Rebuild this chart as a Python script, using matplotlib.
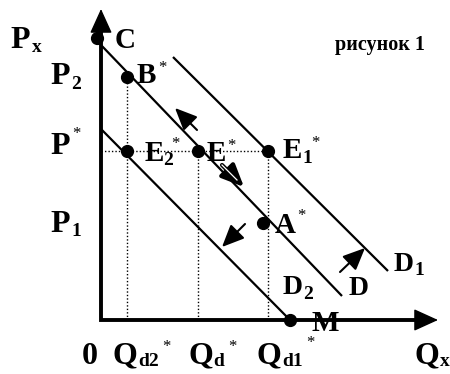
import matplotlib
matplotlib.use("Agg")
import matplotlib.pyplot as plt

plt.rcParams['font.family'] = ['Liberation Serif', 'DejaVu Serif']

# demand lines (quantity, price) endpoints
D_q, D_p = [0, 241], [275, 24]
D1_q, D1_p = [72, 287], [263, 49]
D2_q, D2_p = [0, 189], [191, 0]

# marked points
pt_names = ["C", "B*", "E2*", "E*", "E1*", "A*", "M"]
pt_q = [-4, 26, 26, 97, 167, 162, 189]
pt_p = [282, 243, 169, 169, 169, 97, 0]

P_star = 169
Qd2, Qd, Qd1 = 26, 97, 167
P2 = 243

fig = plt.figure(figsize=(4.5, 3.74), dpi=100)
ax = fig.add_axes([0, 0, 1, 1])
ax.set_xlim(-101, 349)
ax.set_ylim(-54, 320)
ax.axis('off')

# axes with arrows
ax.plot([0, 0, 322], [296, 0, 0], color='black', lw=2.8, solid_joinstyle='miter',
        solid_capstyle='butt')
head = dict(arrowstyle='-|>,head_length=1.1,head_width=0.5', lw=1, color='black',
            mutation_scale=14, shrinkA=0, shrinkB=0)
ax.annotate('', xy=(0, 311), xytext=(0, 290), arrowprops=head)
ax.annotate('', xy=(337, 0), xytext=(316, 0), arrowprops=head)

# dotted guides
dot = dict(color='black', lw=1.0, linestyle=(0, (1, 1.5)))
ax.plot([0, Qd1], [P_star, P_star], **dot)
ax.plot([Qd2, Qd2], [0, P2], **dot)
ax.plot([Qd, Qd], [0, P_star], **dot)
ax.plot([Qd1, Qd1], [0, P_star], **dot)

# demand lines
for q, p in [(D_q, D_p), (D1_q, D1_p), (D2_q, D2_p)]:
    ax.plot(q, p, color='black', lw=1.6, solid_capstyle='butt')

# points
ax.plot(pt_q, pt_p, 'o', color='black', markersize=8.5, zorder=5)

# movement arrows
arr = dict(arrowstyle='-|>,head_length=0.9,head_width=0.4', lw=1.5, color='black',
           mutation_scale=15, shrinkA=0, shrinkB=0)
ax.annotate('', xy=(74, 212), xytext=(96, 190), arrowprops=arr)
ax.annotate('', xy=(143, 133), xytext=(121, 155),
            arrowprops=dict(arrowstyle='-|>,head_length=0.9,head_width=0.4', lw=3.0,
                            color='black', mutation_scale=15, shrinkA=0, shrinkB=0))
ax.plot([121, 136], [155, 140], color='white', lw=0.9, zorder=4)
ax.annotate('', xy=(121, 73), xytext=(144, 96), arrowprops=arr)
ax.annotate('', xy=(264, 72), xytext=(239, 48), arrowprops=arr)

B = dict(fontweight='bold', color='black')
big = 23
mid = 21
dsz = 20
sub = 14
star = 12

def lab(x, y, s, size=big, va='baseline'):
    ax.text(x, y, s, fontsize=size, ha='left', va=va, **B)

def st(x, y):
    ax.text(x, y, '*', fontsize=star, ha='left', va='top', color='black')

# y-axis labels
lab(-91, 272, 'P'); lab(-69, 268, 'x', sub)
lab(-51, 236, 'P'); lab(-30, 231, '2', sub)
lab(-51, 166, 'P'); st(-29, 194)
lab(-51, 88, 'P'); lab(-30, 84, '1', sub)

# point labels
lab(14, 272, 'C', mid)
lab(36, 237, 'B', mid); st(57, 260)
lab(44, 159, 'E', mid); lab(62, 155, '2', sub); st(70, 184)
lab(106, 159, 'E', mid); st(126, 182)
lab(182, 162, 'E', mid); lab(201, 157, '1', sub); st(210, 185)
lab(174, 87, 'A', mid); st(196, 112)
lab(210, -11, 'M', mid)

# curve labels
lab(293, 49, 'D', dsz); lab(313, 45, '1', sub)
lab(248, 25, 'D', dsz)
lab(182, 26, 'D', dsz); lab(202, 21, '2', sub)

# x-axis labels
lab(-19, -44, '0')
lab(11, -43, 'Q'); lab(37, -46, 'd2', sub); st(61, -19)
lab(87, -43, 'Q'); lab(112, -46, 'd', sub); st(127, -19)
lab(156, -43, 'Q'); lab(181, -46, 'd1', sub); st(205, -15)
lab(314, -43, 'Q'); lab(339, -46, 'x', sub)

ax.text(234, 270, 'рисунок 1', fontsize=14.5, ha='left', va='baseline', **B)

fig.savefig('out.png', dpi=100)
